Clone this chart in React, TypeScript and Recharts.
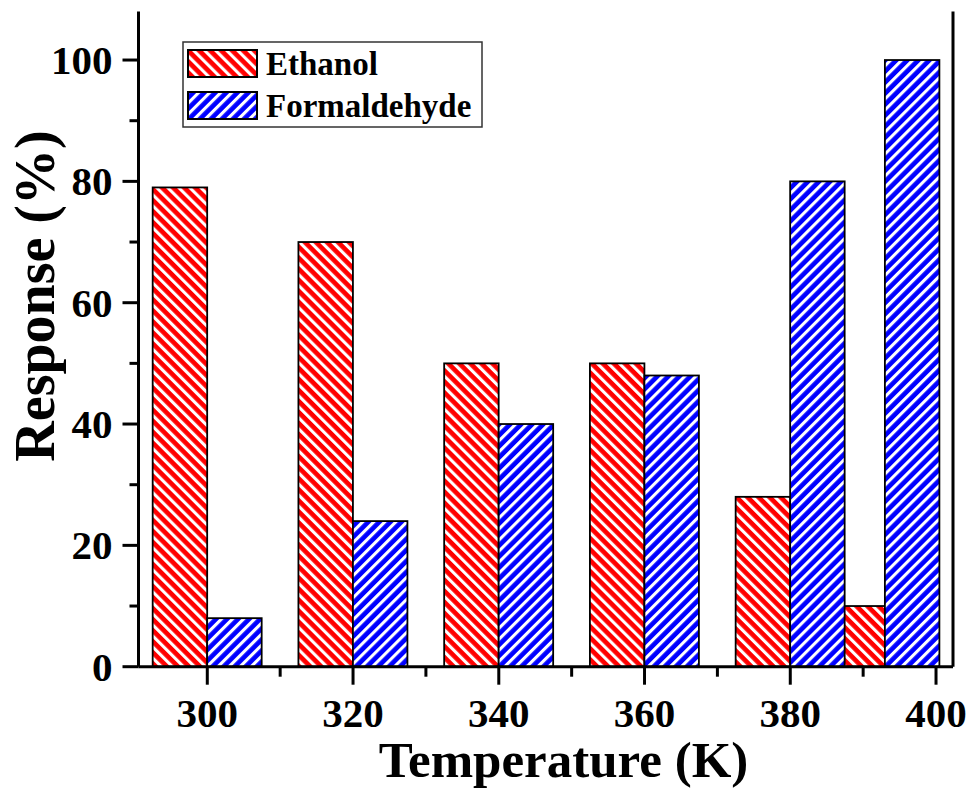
import React from 'react'
import { ComposedChart, Bar, XAxis, YAxis, Legend } from 'recharts'

// group positions on the temperature axis (last group sits left of the 400 tick in the original)
const temps = [300, 320, 340, 360, 380, 393]
const ethanol = [79, 70, 50, 50, 28, 10]
const formaldehyde = [8, 24, 40, 48, 80, 100]
const xTicks = [300, 310, 320, 330, 340, 350, 360, 370, 380, 390, 400]
const yTicks = [0, 10, 20, 30, 40, 50, 60, 70, 80, 90, 100]
const rightTicks = [10, 20, 30, 40, 50, 60, 70, 80, 90, 100]

const data = temps.map((T, i) => ({ T, ethanol: ethanol[i], formaldehyde: formaldehyde[i] }))

const FONT = "'Liberation Serif', 'Times New Roman', serif"
const X_DOMAIN: [number, number] = [290.56, 402.33]
const Y_DOMAIN: [number, number] = [0, 108]

const XTick = (p: any) => {
  const v = p.payload.value
  const major = v % 20 === 0
  return (
    <g>
      <line x1={p.x} x2={p.x} y1={p.y} y2={p.y + (major ? 18 : 10)} stroke="#000" strokeWidth={3} />
      {major && (
        <text x={p.x} y={p.y + 60} textAnchor="middle" fontFamily={FONT} fontWeight="bold" fontSize={41} fill="#000">
          {v}
        </text>
      )}
    </g>
  )
}

const YTick = (p: any) => {
  const v = p.payload.value
  const major = v % 20 === 0
  return (
    <g>
      <line x1={p.x} x2={p.x - (major ? 16 : 9)} y1={p.y} y2={p.y} stroke="#000" strokeWidth={3} />
      {major && (
        <text x={p.x - 26} y={p.y + 14} textAnchor="end" fontFamily={FONT} fontWeight="bold" fontSize={41} fill="#000">
          {v}
        </text>
      )}
    </g>
  )
}

// side: -1 puts the bar left of its position, 1 to the right (grouped pair)
const pairBar = (side: number) => (p: any) => (
  <rect
    x={p.x + (side * p.width) / 2}
    y={p.y}
    width={p.width}
    height={p.height}
    fill={p.fill}
    stroke="#000"
    strokeWidth={1.8}
  />
)

const LegendBox = (props: any) => {
  const items = props.payload || []
  return (
    <svg width={302} height={88} style={{ display: 'block' }}>
      <rect x={1} y={1} width={299} height={85} fill="#fff" stroke="#333" strokeWidth={1.5} />
      {items.map((e: any, i: number) => (
        <g key={e.value}>
          <rect x={6} y={9 + i * 42} width={69} height={27} fill={e.color} stroke="#000" strokeWidth={2} />
          <text x={84} y={34 + i * 42} fontFamily={FONT} fontWeight="bold" fontSize={33} fill="#000">
            {e.value}
          </text>
        </g>
      ))}
    </svg>
  )
}

export default function App() {
  return (
    <div style={{ position: 'absolute', left: 0, top: 0 }}>
      <ComposedChart width={970} height={794} data={data} margin={{ top: 11.5, right: 0, left: 0, bottom: 0 }}>
        <defs>
          <pattern id="hatchRed" patternUnits="userSpaceOnUse" width="7.8" height="7.8" patternTransform="rotate(-45)">
            <rect width="7.8" height="7.8" fill="#FF0000" />
            <rect width="3.1" height="7.8" fill="#FFFFFF" />
          </pattern>
          <pattern id="hatchBlue" patternUnits="userSpaceOnUse" width="7.8" height="7.8" patternTransform="rotate(45)">
            <rect width="7.8" height="7.8" fill="#0000FF" />
            <rect width="3.1" height="7.8" fill="#FFFFFF" />
          </pattern>
        </defs>
        <XAxis
          xAxisId="x"
          dataKey="T"
          type="number"
          domain={X_DOMAIN}
          allowDataOverflow
          ticks={xTicks}
          interval={0}
          height={127.3}
          tickSize={0}
          tickMargin={0}
          tickLine={false}
          tick={XTick}
          axisLine={{ stroke: '#000', strokeWidth: 3 }}
          label={{
            content: () => (
              <text x={563.5} y={777} textAnchor="middle" fontFamily={FONT} fontWeight="bold" fontSize={51} fill="#000">
                Temperature (K)
              </text>
            ),
          }}
        />
        <XAxis xAxisId="x2" dataKey="T" type="number" domain={X_DOMAIN} allowDataOverflow hide />
        <XAxis
          xAxisId="top"
          orientation="top"
          type="number"
          domain={X_DOMAIN}
          allowDataOverflow
          height={0}
          tick={false}
          tickLine={false}
          axisLine={{ stroke: '#000', strokeWidth: 3 }}
        />
        <YAxis
          yAxisId="y"
          type="number"
          domain={Y_DOMAIN}
          allowDataOverflow
          ticks={yTicks}
          interval={0}
          width={138.5}
          tickSize={0}
          tickMargin={0}
          tickLine={false}
          tick={YTick}
          axisLine={{ stroke: '#000', strokeWidth: 3 }}
          label={{
            content: () => (
              <text
                transform="translate(54,296) rotate(-90)"
                textAnchor="middle"
                fontFamily={FONT}
                fontWeight="bold"
                fontSize={56}
                fill="#000"
              >
                Response (%)
              </text>
            ),
          }}
        />
        <YAxis
          yAxisId="right"
          orientation="right"
          type="number"
          domain={Y_DOMAIN}
          allowDataOverflow
          ticks={rightTicks}
          interval={0}
          width={17}
          tickSize={3}
          tick={false}
          tickLine={{ stroke: '#000', strokeWidth: 1.5 }}
          axisLine={{ stroke: '#000', strokeWidth: 3 }}
        />
        <Legend
          layout="horizontal"
          verticalAlign="middle"
          align="center"
          wrapperStyle={{ left: 182, top: 41, width: 302, height: 88 }}
          content={LegendBox}
        />
        <Bar
          name="Ethanol"
          dataKey="ethanol"
          xAxisId="x"
          yAxisId="y"
          fill="url(#hatchRed)"
          barSize={54.5}
          shape={pairBar(-1)}
          isAnimationActive={false}
        />
        <Bar
          name="Formaldehyde"
          dataKey="formaldehyde"
          xAxisId="x2"
          yAxisId="y"
          fill="url(#hatchBlue)"
          barSize={54.5}
          shape={pairBar(1)}
          isAnimationActive={false}
        />
      </ComposedChart>
    </div>
  )
}
